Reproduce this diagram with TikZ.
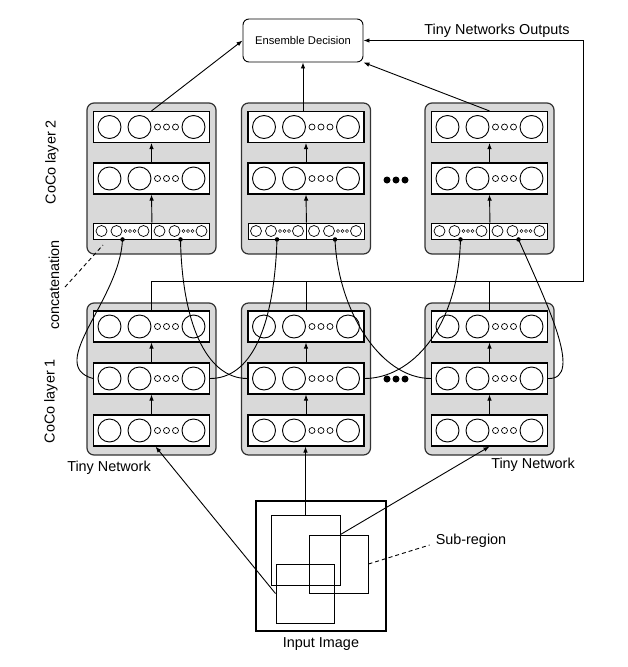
\documentclass[tikz,border=0pt]{standalone}
\usepackage{fontspec}
\setmainfont{Liberation Sans}
\usetikzlibrary{arrows.meta}
\newcommand\mylayer[3]{%
  \node[layerbox] (#1) at (#2,#3) {};
  \foreach \dx in {-42,-12,42} \draw[neuron] ({#2+\dx},#3) circle[radius=11.5pt];
  \foreach \dx in {6,15,24} \draw[neuron,line width=0.7pt] ({#2+\dx},#3) circle[radius=3pt];
}
\newcommand\myhalf[3]{%
  \node[halfbox] (#1) at (#2,#3) {};
  \foreach \dx in {-21,-6,21} \draw[line width=0.7pt] ({#2+\dx},#3) circle[radius=5.5pt];
  \foreach \dx in {3,7.5,12} \draw[line width=0.5pt] ({#2+\dx},#3) circle[radius=1.6pt];
}
\begin{document}
\begin{tikzpicture}[x=1pt,y=-1pt,
  graybox/.style={draw=black!80,line width=1.2pt,fill=black!15,rounded corners=7pt,minimum width=129pt,minimum height=#1,inner sep=0pt},
  layerbox/.style={draw=black,line width=1.1pt,fill=white,minimum width=116pt,minimum height=31pt,inner sep=0pt},
  halfbox/.style={draw=black,line width=0.9pt,fill=white,minimum width=58pt,minimum height=16pt,inner sep=0pt},
  neuron/.style={line width=0.9pt},
  conn/.style={line width=0.9pt},
  arr/.style={conn,-{Latex[length=6pt,width=4.5pt]}},
  lbl/.style={font=\fontsize{14.4}{17}\selectfont,inner sep=0pt},
  dotpt/.style={circle,fill=black,inner sep=0pt,minimum size=4.5pt},
  bigdot/.style={circle,fill=black,inner sep=0pt,minimum size=7pt},
  subreg/.style={draw=black,line width=1pt,inner sep=0pt},
  dashline/.style={line width=0.9pt,dash pattern=on 4pt off 3pt},
]
\useasboundingbox (0,0) rectangle (627,667);

% ---- gray boxes
\node[graybox=151pt] (g1t) at (151.5,178.5) {};
\node[graybox=151pt] (g2t) at (306,178.5) {};
\node[graybox=151pt] (g3t) at (489.5,178.5) {};
\node[graybox=152pt] (g1b) at (151.5,379) {};
\node[graybox=152pt] (g2b) at (306,379) {};
\node[graybox=152pt] (g3b) at (489.5,379) {};

% ---- top row layers
\mylayer{t1a}{151.5}{127}
\mylayer{t1b}{151.5}{178.5}
\myhalf{t1c}{122.5}{231}
\myhalf{t1d}{180.5}{231}
\mylayer{t2a}{306}{127}
\mylayer{t2b}{306}{178.5}
\myhalf{t2c}{277}{231}
\myhalf{t2d}{335}{231}
\mylayer{t3a}{489.5}{127}
\mylayer{t3b}{489.5}{178.5}
\myhalf{t3c}{460.5}{231}
\myhalf{t3d}{518.5}{231}

% ---- bottom row layers
\mylayer{b1a}{151.5}{326.5}
\mylayer{b1b}{151.5}{378.5}
\mylayer{b1c}{151.5}{430.5}
\mylayer{b2a}{306}{326.5}
\mylayer{b2b}{306}{378.5}
\mylayer{b2c}{306}{430.5}
\mylayer{b3a}{489.5}{326.5}
\mylayer{b3b}{489.5}{378.5}
\mylayer{b3c}{489.5}{430.5}

% ---- arrows inside boxes
\foreach \i in {1,2,3}{
  \draw[arr] (t\i b.north) -- (t\i a.south);
  \draw[arr] (t\i c.north east) -- (t\i b.south);
  \draw[arr] (b\i b.north) -- (b\i a.south);
  \draw[arr] (b\i c.north) -- (b\i b.south);
}

% ---- ellipsis dots
\node[bigdot] (e1) at (387,180) {};
\node[bigdot] (e2) at (396,180) {};
\node[bigdot] (e3) at (405,180) {};
\node[bigdot] (f1) at (387,379) {};
\node[bigdot] (f2) at (396,379) {};
\node[bigdot] (f3) at (405,379) {};

% ---- ensemble decision
\node[draw,rounded corners=6pt,line width=0.9pt,minimum width=120pt,minimum height=43pt,inner sep=0pt,
      font=\fontsize{11.2}{13}\selectfont] (ens) at (303,40.5) {Ensemble Decision};
\draw[arr] (t1a.north) -- (ens.west);
\draw[arr] (ens.south |- t2a.north) -- (ens.south);
\draw[arr] (t3a.north) -- (ens.south east);

% ---- outputs bus
\coordinate (busR) at (583,281);
\draw[arr] (b1a.north) |- (busR) |- (ens.east);
\draw[conn] (b2a.north) -- (b2a.north |- busR);
\draw[conn] (b3a.north) -- (b3a.north |- busR);
\node[lbl] (outlbl) at (497,31) {Tiny Networks Outputs};

% ---- concatenation connection points
\node[dotpt] (d1L) at (t1c.south) {};
\node[dotpt] (d1R) at (t1d.south) {};
\node[dotpt] (d2L) at (t2c.south) {};
\node[dotpt] (d2R) at (t2d.south) {};
\node[dotpt] (d3L) at (t3c.south) {};
\node[dotpt] (d3R) at (t3d.south) {};

% ---- curves
\draw[conn] (d1L.center) .. controls (120,300) and (45,365) .. (b1b.west);
\draw[conn] (d1R.center) .. controls (182,320) and (205,378.5) .. (b2b.west);
\draw[conn] (d2L.center) .. controls (274,330) and (250,378.5) .. (b1b.east);
\draw[conn] (d2R.center) .. controls (338,310) and (380,378.5) .. (b3b.west);
\draw[conn] (d3L.center) .. controls (458,330) and (410,378.5) .. (b2b.east);
\draw[conn] (d3R.center) .. controls (545,300) and (585,380) .. (b3b.east);

% ---- input image
\node[draw,line width=1.8pt,minimum width=130pt,minimum height=130pt,inner sep=0pt] (img) at (321,566) {};
\node[subreg,minimum width=69pt,minimum height=70pt] (s1) at (305.5,550) {};
\node[subreg,minimum width=59pt,minimum height=58pt] (s2) at (338.5,564) {};
\node[subreg,minimum width=58pt,minimum height=59pt] (s3) at (305,593.5) {};
\draw[arr] (s3.west) -- ([xshift=4pt]b1c.south);
\draw[arr] (s1.north) -- (s1.north |- b2c.south);
\draw[arr] (s1.east |- s2.north) -- (b3c.south);

\node[lbl] (sub) at (471,541) {Sub-region};
\draw[dashline] (s2.east) -- ([shift={(-6pt,-4pt)}]sub.west);
\node[lbl] (inlbl) at (321,644) {Input Image};

% ---- labels
\node[lbl] (tn1) at (109,468) {Tiny Network};
\node[lbl] (tn2) at (533,465) {Tiny Network};
\node[lbl,rotate=90] (cl2) at (52,162) {CoCo layer 2};
\node[lbl,rotate=90] (conc) at (54,285) {concatenation};
\node[lbl,rotate=90] (cl1) at (51,401) {CoCo layer 1};
\coordinate (cA) at (65,287);
\coordinate (cB) at (103,245);
\draw[dashline] (cA) -- (cB);
\end{tikzpicture}
\end{document}
